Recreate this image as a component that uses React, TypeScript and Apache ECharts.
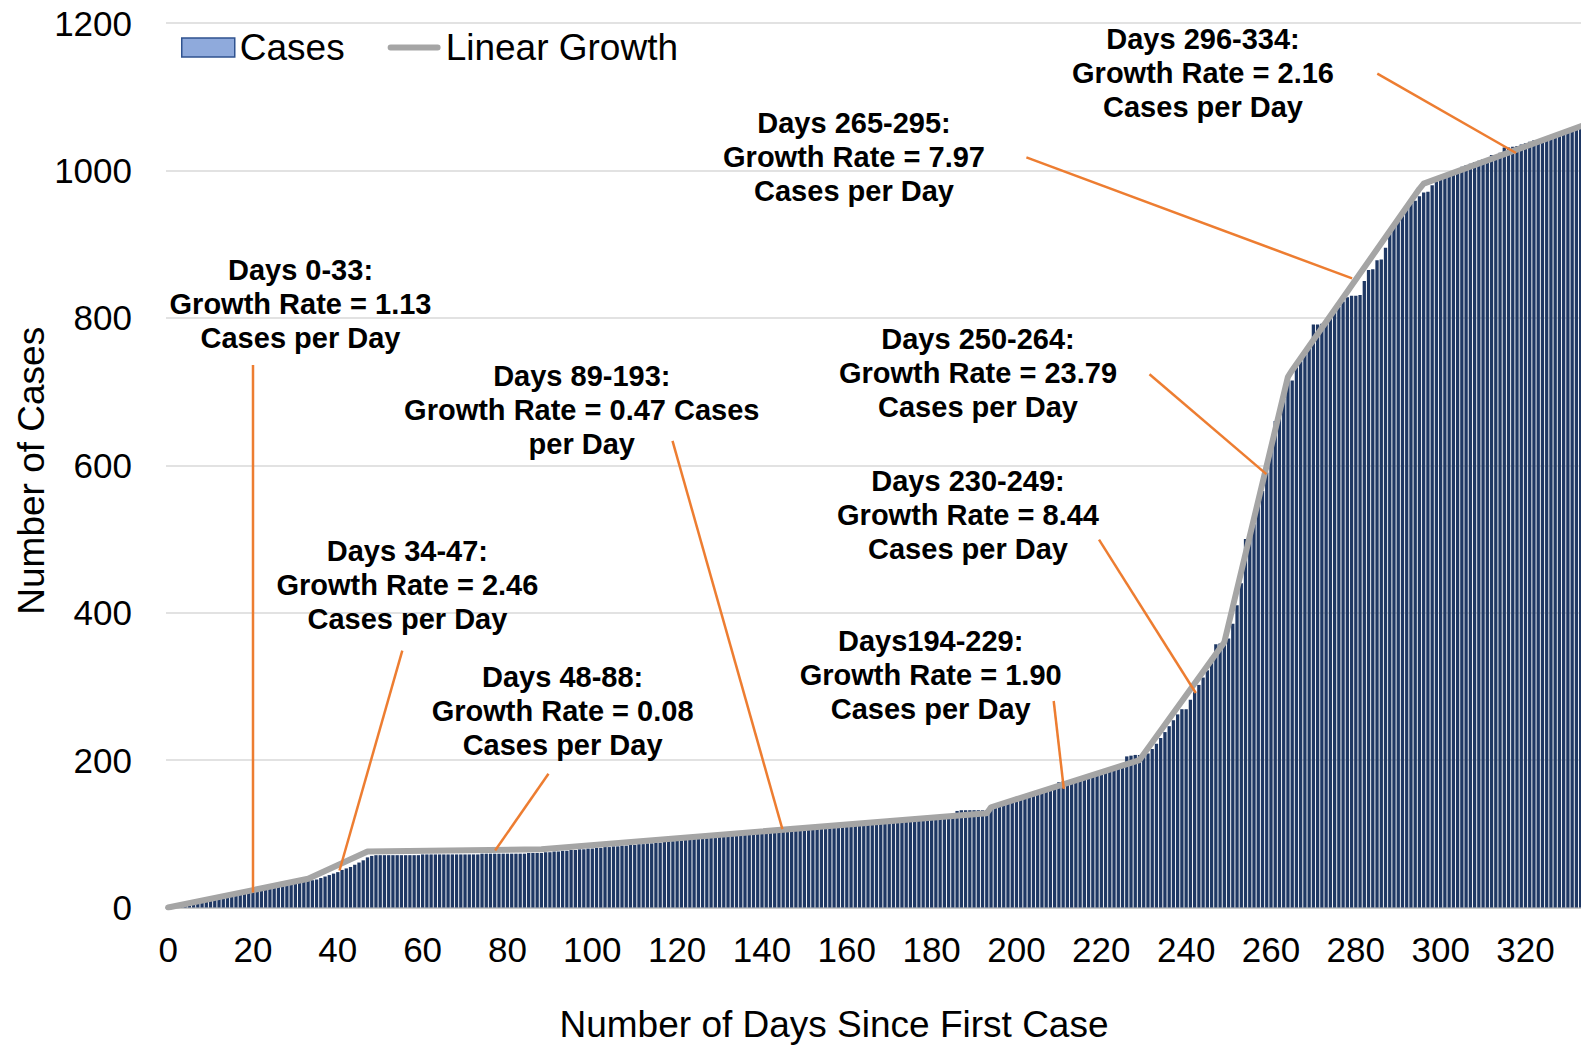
import React, { useEffect, useRef } from "react";
import * as echarts from "echarts";

const FONT = '"Liberation Sans", Arial, Helvetica, sans-serif';

// Categories: days since first case
const DAY_COUNT = 335;
const DAYS = Array.from({ length: DAY_COUNT }, (_, i) => String(i));

// Cumulative cases per day, by growth segment
const CASES_DAYS_0_33 = [
  1, 1, 2, 3, 4, 4, 5, 7, 8, 9,
  10, 11, 12, 13, 14, 16, 17, 18, 19, 20,
  21, 22, 23, 24, 26, 33, 33, 33, 33, 33,
  34, 34, 35, 36,
];
const CASES_DAYS_34_47 = [37, 38, 40, 42, 44, 46, 48, 51, 53, 55, 58, 61, 64, 68];
const CASES_DAYS_48_88 = [
  70, 71, 71, 71, 71, 71, 71, 71, 71, 71,
  71, 71, 72, 72, 72, 72, 72, 72, 72, 72,
  72, 72, 72, 72, 72, 72, 73, 73, 73, 73,
  73, 73, 73, 73, 73, 73, 73, 74, 74, 74, 74,
];
const CASES_DAYS_89_193 = [
  75, 75, 76, 76, 77, 77, 78, 78, 79, 79,
  80, 80, 81, 81, 82, 82, 83, 83, 84, 84,
  85, 85, 86, 86, 87, 87, 88, 88, 89, 90,
  90, 91, 91, 92, 92, 93, 93, 94, 94, 95,
  95, 96, 96, 97, 97, 98, 98, 99, 99, 100,
  100, 101, 101, 102, 102, 103, 103, 104, 104, 105,
  105, 106, 106, 107, 107, 108, 108, 109, 109, 110,
  110, 111, 111, 112, 112, 113, 113, 114, 114, 115,
  115, 116, 116, 117, 117, 118, 119, 119, 120, 120,
  121, 121, 122, 122, 123, 123, 124, 131, 132, 132,
  132, 132, 132, 132, 132,
];
const CASES_DAYS_194_229 = [
  135, 137, 139, 141, 143, 145, 150, 151, 151, 152,
  154, 156, 158, 160, 162, 164, 170, 171, 171, 172,
  174, 175, 177, 179, 181, 183, 184, 186, 188, 190,
  192, 194, 205, 206, 207, 207,
];
const CASES_DAYS_230_249 = [
  208, 209, 215, 222, 230, 238, 246, 254, 262, 269,
  269, 282, 292, 302, 312, 322, 340, 357, 358, 359,
];
const CASES_DAYS_250_264 = [
  365, 385, 410, 440, 500, 505, 520, 545, 565, 590,
  625, 660, 665, 690, 715,
];
const CASES_DAYS_265_295 = [
  715, 733, 741, 750, 758, 791, 791, 792, 797, 802,
  808, 815, 822, 828, 830, 830, 831, 850, 865, 866,
  878, 879, 895, 914, 925, 936, 944, 951, 955, 959, 965,
];
const CASES_DAYS_296_334 = [
  970, 971, 980, 985, 990, 993, 996, 999, 1002, 1005,
  1007, 1009, 1011, 1013, 1015, 1017, 1021, 1021, 1024, 1031,
  1031, 1032, 1033, 1035, 1037, 1039, 1041, 1041, 1043, 1045,
  1047, 1049, 1050, 1052, 1053, 1055, 1056, 1058, 1060,
];
const CASES = [
  ...CASES_DAYS_0_33,
  ...CASES_DAYS_34_47,
  ...CASES_DAYS_48_88,
  ...CASES_DAYS_89_193,
  ...CASES_DAYS_194_229,
  ...CASES_DAYS_230_249,
  ...CASES_DAYS_250_264,
  ...CASES_DAYS_265_295,
  ...CASES_DAYS_296_334,
];

// Piecewise linear growth fit: knot days and values
const LINE_DAYS = [0, 33, 47, 88, 193, 194, 229, 249, 264, 265, 295, 296, 334];
const LINE_VALUES = [0, 39, 76, 79, 128, 136, 200, 360, 720, 729, 975, 982, 1062];

// Y-axis ticks
const Y_MIN = 0;
const Y_MAX = 1200;
const Y_STEP = 200;

// Annotation texts
const ANNOTATION_TEXTS = [
  "Days 0-33:\nGrowth Rate = 1.13\nCases per Day",
  "Days 34-47:\nGrowth Rate = 2.46\nCases per Day",
  "Days 48-88:\nGrowth Rate = 0.08\nCases per Day",
  "Days 89-193:\nGrowth Rate = 0.47 Cases\nper Day",
  "Days194-229:\nGrowth Rate = 1.90\nCases per Day",
  "Days 230-249:\nGrowth Rate = 8.44\nCases per Day",
  "Days 250-264:\nGrowth Rate = 23.79\nCases per Day",
  "Days 265-295:\nGrowth Rate = 7.97\nCases per Day",
  "Days 296-334:\nGrowth Rate = 2.16\nCases per Day",
];
// Layout of annotations (pixels): text centre, leader line start/end
const ANNOTATION_LAYOUT = [
  { cx: 300.5, cy: 303.6, x1: 253, y1: 365, x2: 253, y2: 892.5 },
  { cx: 407.4, cy: 585.0, x1: 402.3, y1: 650.6, x2: 339.5, y2: 870.5 },
  { cx: 562.6, cy: 711.1, x1: 548.5, y1: 773.7, x2: 495.1, y2: 850.5 },
  { cx: 581.8, cy: 409.5, x1: 672.5, y1: 440.8, x2: 782.4, y2: 829.2 },
  { cx: 930.7, cy: 674.8, x1: 1053.7, y1: 701, x2: 1063.8, y2: 788.8 },
  { cx: 968, cy: 515.4, x1: 1099, y1: 539.7, x2: 1195.8, y2: 693 },
  { cx: 978, cy: 373.2, x1: 1149.5, y1: 374.2, x2: 1266.4, y2: 474.1 },
  { cx: 854, cy: 157.4, x1: 1026.4, y1: 157.4, x2: 1352.1, y2: 278.4 },
  { cx: 1203, cy: 72.6, x1: 1377.3, y1: 73.6, x2: 1516, y2: 153 },
];

// Legend icon for the growth line: thick rounded bar inside a 53x19 box
const LINE_LEGEND_ICON =
  "path://M0,0 L0.01,0 L0,0.01 Z M3,6.5 L50,6.5 A3,3 0 0 1 50,12.5 L3,12.5 A3,3 0 0 1 3,6.5 Z M53,19 L52.99,19 L53,18.99 Z";

function buildLineSeries(): (number | null)[] {
  const arr: (number | null)[] = new Array(DAY_COUNT).fill(null);
  LINE_DAYS.forEach((d, i) => {
    arr[d] = LINE_VALUES[i];
  });
  return arr;
}

export default function App() {
  const ref = useRef<HTMLDivElement>(null);

  useEffect(() => {
    if (!ref.current) return;
    const chart = echarts.init(ref.current, undefined, { renderer: "svg" });

    const graphic: any[] = [];
    ANNOTATION_TEXTS.forEach((text, i) => {
      const L = ANNOTATION_LAYOUT[i];
      graphic.push({
        type: "line",
        z: 100,
        shape: { x1: L.x1, y1: L.y1, x2: L.x2, y2: L.y2 },
        style: { stroke: "#ed7d31", lineWidth: 2.5 },
      });
      graphic.push({
        type: "text",
        z: 101,
        x: L.cx,
        y: L.cy,
        style: {
          text,
          fill: "#000",
          fontSize: 29,
          fontWeight: "bold",
          fontFamily: FONT,
          align: "center",
          verticalAlign: "middle",
          lineHeight: 34,
        },
      });
    });

    chart.setOption({
      animation: false,
      backgroundColor: "#ffffff",
      textStyle: { fontFamily: FONT },
      grid: {
        left: 166,
        right: -6,
        top: 23,
        bottom: 137.5,
        containLabel: false,
        outerBoundsMode: "none",
      },
      legend: {
        left: 176,
        top: 24,
        itemWidth: 53,
        itemHeight: 19,
        itemGap: 43,
        textStyle: { fontSize: 37, fontFamily: FONT, color: "#000" },
        data: [
          {
            name: "Cases",
            icon: "rect",
            itemStyle: { color: "#8faadc", borderColor: "#2f528f", borderWidth: 1.5 },
          },
          {
            name: "Linear Growth",
            icon: LINE_LEGEND_ICON,
            itemStyle: { color: "#a5a5a5", borderWidth: 0 },
          },
        ],
      },
      xAxis: {
        type: "category",
        data: DAYS,
        boundaryGap: true,
        name: "Number of Days Since First Case",
        nameLocation: "middle",
        nameGap: 98,
        nameMoveOverlap: false,
        nameTextStyle: {
          fontSize: 37,
          fontFamily: FONT,
          color: "#000",
          padding: [0, 85, 0, 0],
        },
        axisTick: { show: false },
        axisLine: { show: true, lineStyle: { color: "#c8c8c8", width: 2 } },
        axisLabel: {
          interval: 19,
          fontSize: 35,
          fontFamily: FONT,
          color: "#000",
          margin: 24,
        },
        splitLine: { show: false },
      },
      yAxis: {
        type: "value",
        min: Y_MIN,
        max: Y_MAX,
        interval: Y_STEP,
        name: "Number of Cases",
        nameLocation: "middle",
        nameRotate: 90,
        nameGap: 116,
        nameMoveOverlap: false,
        nameTextStyle: { fontSize: 37, fontFamily: FONT, color: "#000", padding: [0, 11, 0, 0] },
        axisLine: { show: false },
        axisTick: { show: false },
        axisLabel: {
          fontSize: 35,
          fontFamily: FONT,
          color: "#000",
          margin: 34,
          formatter: (v: number) => String(v),
        },
        splitLine: { show: true, lineStyle: { color: "#d9d9d9", width: 1.5 } },
      },
      series: [
        {
          name: "Cases",
          type: "bar",
          data: CASES,
          barCategoryGap: "22%",
          itemStyle: { color: "#1f3864" },
          z: 2,
        },
        {
          name: "Linear Growth",
          type: "line",
          data: buildLineSeries(),
          connectNulls: true,
          showSymbol: false,
          symbol: "none",
          lineStyle: { color: "#a5a5a5", width: 6, cap: "round", join: "round" },
          itemStyle: { color: "#a5a5a5" },
          z: 3,
        },
      ],
      graphic,
    });

    return () => {
      chart.dispose();
    };
  }, []);

  return (
    <div
      ref={ref}
      style={{ position: "absolute", left: 0, top: 0, width: 1581, height: 1045 }}
    />
  );
}
